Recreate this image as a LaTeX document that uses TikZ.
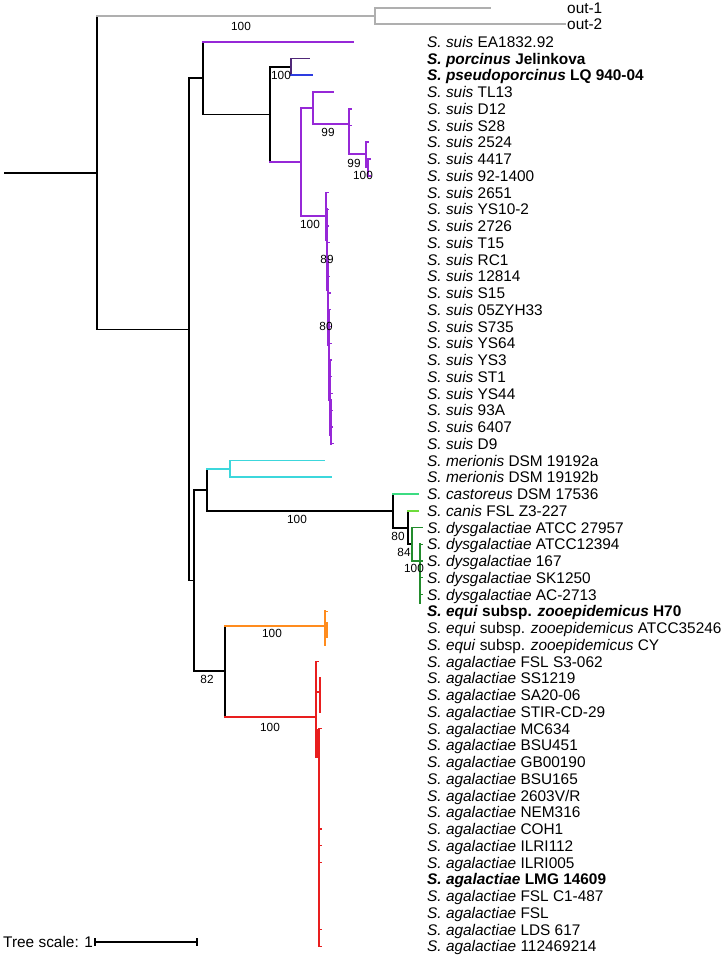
\documentclass[tikz,border=0pt]{standalone}
\usepackage{fontspec}
\setmainfont{Liberation Sans}
\definecolor{grayc}{RGB}{175,175,175}
\definecolor{suis}{RGB}{150,40,215}
\definecolor{porc}{RGB}{80,40,120}
\definecolor{pseudo}{RGB}{45,60,225}
\definecolor{cyanc}{RGB}{60,215,220}
\definecolor{cast}{RGB}{60,220,130}
\definecolor{canis}{RGB}{110,220,60}
\definecolor{dysg}{RGB}{35,140,45}
\definecolor{orangec}{RGB}{255,140,30}
\definecolor{redc}{RGB}{232,30,30}
\newcommand\tedge[4]{\draw[br,#1] (#3) -- (#3 |- #4); \draw[br,#2] (#3 |- #4) -- (#4);}
\newcommand\Sp[1]{\textit{S. #1}}
\newcommand\lab[2]{\node[lab] (L#1) at (427,{41.8+(#1-1)*16.75+5.5}) {#2};}
\begin{document}
\begin{tikzpicture}[x=1pt,y=-1pt]
\tikzset{
 br/.style={line width=1.8pt, line cap=rect},
 thin/.style={line width=1.2pt, line cap=rect},
 lab/.style={anchor=base west, inner sep=0pt, font=\fontsize{15.4}{18}\selectfont},
 bs/.style={inner sep=0pt, font=\fontsize{11.8}{13}\selectfont},
}
\useasboundingbox (0,0) rectangle (726,959);
\fill[white] (0,0) rectangle (726,959);
% ---- coordinates of tree nodes
\coordinate (r0) at (5,173);
\coordinate (R) at (97,173);
\coordinate (OUT) at (375,16);
\coordinate (o1) at (490,8);
\coordinate (o2) at (565,24);
\coordinate (N1) at (189,329.5);
\coordinate (N2) at (203,78);
\coordinate (tEA) at (353,41.8);
\coordinate (N3) at (270,114.5);
\coordinate (N4) at (291,67);
\coordinate (tPor) at (309,58.5);
\coordinate (tPse) at (312,75.3);
\coordinate (N5) at (301,162);
\coordinate (N6) at (313,108);
\coordinate (tTL) at (333,92.05);
\coordinate (N7) at (349,124);
\coordinate (tD12) at (351,108.8);
\coordinate (tS28) at (351,125.55);
\coordinate (N8) at (366,154);
\coordinate (t2524) at (368,142.3);
\coordinate (N9) at (368,167);
\coordinate (t4417) at (370,159.05);
\coordinate (t921) at (370,175.8);
\coordinate (Ns) at (326,216);
\coordinate (N10) at (194,580.5);
\coordinate (N11) at (207,490);
\coordinate (N12) at (230,469);
\coordinate (tMa) at (324,460.55);
\coordinate (tMb) at (331,477.3);
\coordinate (N13) at (393,511);
\coordinate (tCas) at (418,494.05);
\coordinate (N14) at (408,528);
\coordinate (tCan) at (418,510.8);
\coordinate (N15) at (412,544);
\coordinate (tD1) at (422,527.55);
\coordinate (N16) at (420,561);
\coordinate (N17) at (225,671);
\coordinate (N18) at (325,626);
\coordinate (N19) at (316,717);
% ---- branches
\draw[br] (r0) -- (R);
\tedge{black}{grayc}{R}{OUT}
\tedge{grayc}{grayc}{OUT}{o1}
\tedge{grayc}{grayc}{OUT}{o2}
\tedge{black}{black}{R}{N1}
\tedge{black}{black}{N1}{N2}
\tedge{black}{black}{N1}{N10}
\tedge{black}{suis}{N2}{tEA}
\tedge{black}{black}{N2}{N3}
\tedge{black}{black}{N3}{N4}
\tedge{black}{suis}{N3}{N5}
\tedge{porc}{porc}{N4}{tPor}
\tedge{porc}{pseudo}{N4}{tPse}
\tedge{suis}{suis}{N5}{N6}
\tedge{suis}{suis}{N5}{Ns}
\tedge{suis}{suis}{N6}{tTL}
\tedge{suis}{suis}{N6}{N7}
\tedge{suis}{suis}{N7}{tD12}
\tedge{suis}{suis}{N7}{tS28}
\tedge{suis}{suis}{N7}{N8}
\tedge{suis}{suis}{N8}{t2524}
\tedge{suis}{suis}{N8}{N9}
\tedge{suis}{suis}{N9}{t4417}
\tedge{suis}{suis}{N9}{t921}
% suis main clade (nearly zero-length branches)
\draw[br,suis] (326,192.55) -- (326,240);
\draw[br,suis] (327,209) -- (327,290);
\draw[br,suis] (328,260) -- (328,345);
\draw[br,suis] (329,310) -- (329,400);
\draw[br,suis] (330,360) -- (330,435);
\draw[br,suis] (331,400) -- (331,443.8);
\foreach \i in {10,...,25} {
  \pgfmathsetmacro\yy{41.8+(\i-1)*16.75}
  \pgfmathsetmacro\xx{326+(\i-10)/3}
  \draw[thin,suis] (\xx,\yy) -- ++(2,0);
}
% merionis / castoreus / canis / dysgalactiae
\tedge{black}{black}{N10}{N11}
\tedge{black}{black}{N10}{N17}
\tedge{black}{cyanc}{N11}{N12}
\tedge{black}{black}{N11}{N13}
\tedge{cyanc}{cyanc}{N12}{tMa}
\tedge{cyanc}{cyanc}{N12}{tMb}
\tedge{black}{cast}{N13}{tCas}
\tedge{black}{black}{N13}{N14}
\tedge{black}{canis}{N14}{tCan}
\tedge{black}{black}{N14}{N15}
\tedge{dysg}{dysg}{N15}{tD1}
\tedge{dysg}{dysg}{N15}{N16}
\draw[br,dysg] (420,544.3) -- (420,603);
\foreach \i in {31,...,34} {
  \pgfmathsetmacro\yy{41.8+(\i-1)*16.75}
  \draw[thin,dysg] (420,\yy) -- ++(2,0);
}
% equi / agalactiae
\tedge{black}{orangec}{N17}{N18}
\tedge{black}{redc}{N17}{N19}
\draw[br,orangec] (325,611.3) -- (325,644.8);
\draw[thin,orangec] (325,611.3) -- ++(2,0);
\draw[thin,orangec] (327,623) -- (327,637);
\draw[br,redc] (316,661.55) -- (316,757);
\draw[thin,redc] (316,661.55) -- ++(2,0);
\draw[thin,redc] (316,692) -- (320,692);
\draw[br,redc] (320,678.3) -- (320,711.8);
\draw[thin,redc] (316,757) -- (318,757);
\draw[thin,redc] (318,730) -- (318,757);
\draw[thin,redc] (319,728.55) -- (319,946.3);
\foreach \i in {42,48,49,50,54,55} {
  \pgfmathsetmacro\yy{41.8+(\i-1)*16.75}
  \draw[thin,redc] (319,\yy) -- ++(2,0);
}
% ---- support values
\node[bs] (b1) at (241,26.5) {100};
\node[bs] (b2) at (281,75) {100};
\node[bs] (b3) at (328,132) {99};
\node[bs] (b4) at (354,163) {99};
\node[bs] (b5) at (363,175.5) {100};
\node[bs] (b6) at (310,224) {100};
\node[bs] (b7) at (327,259) {89};
\node[bs] (b8) at (326,326) {80};
\node[bs] (b9) at (297,519) {100};
\node[bs] (b10) at (398,536) {80};
\node[bs] (b11) at (404,552) {84};
\node[bs] (b12) at (414,568) {100};
\node[bs] (b13) at (207,679) {82};
\node[bs] (b14) at (272,633) {100};
\node[bs] (b15) at (270,727) {100};
% ---- leaf labels
\node[lab] (Lo1) at (567,13.5) {out-1};
\node[lab] (Lo2) at (567,29.5) {out-2};
\lab{1}{\Sp{suis} EA1832.92}
\lab{2}{\textbf{\Sp{porcinus} Jelinkova}}
\lab{3}{\textbf{\Sp{pseudoporcinus} LQ 940-04}}
\lab{4}{\Sp{suis} TL13}
\lab{5}{\Sp{suis} D12}
\lab{6}{\Sp{suis} S28}
\lab{7}{\Sp{suis} 2524}
\lab{8}{\Sp{suis} 4417}
\lab{9}{\Sp{suis} 92-1400}
\lab{10}{\Sp{suis} 2651}
\lab{11}{\Sp{suis} YS10-2}
\lab{12}{\Sp{suis} 2726}
\lab{13}{\Sp{suis} T15}
\lab{14}{\Sp{suis} RC1}
\lab{15}{\Sp{suis} 12814}
\lab{16}{\Sp{suis} S15}
\lab{17}{\Sp{suis} 05ZYH33}
\lab{18}{\Sp{suis} S735}
\lab{19}{\Sp{suis} YS64}
\lab{20}{\Sp{suis} YS3}
\lab{21}{\Sp{suis} ST1}
\lab{22}{\Sp{suis} YS44}
\lab{23}{\Sp{suis} 93A}
\lab{24}{\Sp{suis} 6407}
\lab{25}{\Sp{suis} D9}
\lab{26}{\Sp{merionis} DSM 19192a}
\lab{27}{\Sp{merionis} DSM 19192b}
\lab{28}{\Sp{castoreus} DSM 17536}
\lab{29}{\Sp{canis} FSL Z3-227}
\lab{30}{\Sp{dysgalactiae} ATCC 27957}
\lab{31}{\Sp{dysgalactiae} ATCC12394}
\lab{32}{\Sp{dysgalactiae} 167}
\lab{33}{\Sp{dysgalactiae} SK1250}
\lab{34}{\Sp{dysgalactiae} AC-2713}
\lab{35}{\textbf{\Sp{equi} subsp. \textit{zooepidemicus} H70}}
\lab{36}{\Sp{equi} subsp. \textit{zooepidemicus} ATCC35246}
\lab{37}{\Sp{equi} subsp. \textit{zooepidemicus} CY}
\lab{38}{\Sp{agalactiae} FSL S3-062}
\lab{39}{\Sp{agalactiae} SS1219}
\lab{40}{\Sp{agalactiae} SA20-06}
\lab{41}{\Sp{agalactiae} STIR-CD-29}
\lab{42}{\Sp{agalactiae} MC634}
\lab{43}{\Sp{agalactiae} BSU451}
\lab{44}{\Sp{agalactiae} GB00190}
\lab{45}{\Sp{agalactiae} BSU165}
\lab{46}{\Sp{agalactiae} 2603V/R}
\lab{47}{\Sp{agalactiae} NEM316}
\lab{48}{\Sp{agalactiae} COH1}
\lab{49}{\Sp{agalactiae} ILRI112}
\lab{50}{\Sp{agalactiae} ILRI005}
\lab{51}{\textbf{\Sp{agalactiae} LMG 14609}}
\lab{52}{\Sp{agalactiae} FSL C1-487}
\lab{53}{\Sp{agalactiae} FSL}
\lab{54}{\Sp{agalactiae} LDS 617}
\lab{55}{\Sp{agalactiae} 112469214}
% ---- scale bar
\node[lab] (ts) at (3,947.5) {Tree scale: 1};
\coordinate (sA) at (95,942);
\coordinate (sB) at (197,942);
\draw[br] (sA) -- (sB);
\draw[br] ([yshift=-3.5pt]sA) -- ([yshift=3.5pt]sA);
\draw[br] ([yshift=-3.5pt]sB) -- ([yshift=3.5pt]sB);
\end{tikzpicture}
\end{document}
